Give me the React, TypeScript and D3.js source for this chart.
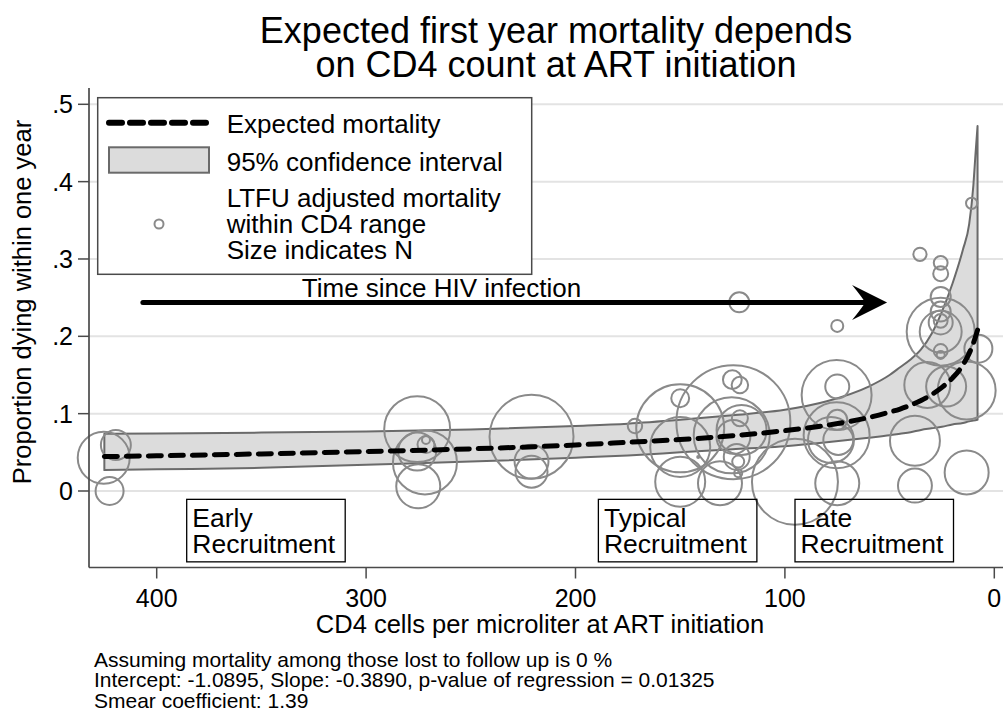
import React from 'react';
import * as d3 from 'd3';

// ---------- data ----------
const cd4Curve = [425, 400, 350, 300, 250, 200, 175, 150, 125, 100, 80, 60, 50, 45, 40, 35, 30, 25, 20, 15, 12, 10, 9, 8];
const expected = [0.0445, 0.0455, 0.048, 0.051, 0.0545, 0.0595, 0.063, 0.0665, 0.0715, 0.078, 0.085, 0.095, 0.102, 0.106, 0.111, 0.117, 0.1245, 0.134, 0.146, 0.163, 0.178, 0.191, 0.199, 0.208];
const ciLower = [0.027, 0.028, 0.030, 0.034, 0.038, 0.043, 0.046, 0.050, 0.054, 0.058, 0.063, 0.069, 0.072, 0.074, 0.076, 0.079, 0.081, 0.083, 0.086, 0.088, 0.090, 0.091, 0.0915, 0.092];
const ciUpper = [0.074, 0.0745, 0.0755, 0.077, 0.0795, 0.084, 0.087, 0.092, 0.098, 0.105, 0.116, 0.135, 0.150, 0.160, 0.170, 0.183, 0.203, 0.232, 0.268, 0.312, 0.345, 0.395, 0.435, 0.472];

// observed LTFU-adjusted mortality within CD4 ranges (size = N)
const obsCD4 = [425.3, 419.5, 422.5, 275.6, 271.9, 275.1, 275.6, 271.4, 271.4, 221, 221, 221, 171.6, 150, 150, 150, 150, 121.8, 124.6, 125.1, 121.5, 125.4, 121.5, 124.6, 122.3, 122.3, 131, 95.2, 141.4, 120.7, 123, 75, 75.3, 75, 75.3, 75, 78, 74.5, 75, 35.5, 32, 37.9, 37.9, 25.6, 25.6, 25.6, 25.6, 25.6, 25.6, 25.6, 25.6, 25.6, 25.6, 23, 13.2, 7.6, 10.8, 13.2];
const obsRate = [0.043, 0.0595, 0.0, 0.080, 0.037, 0.006, 0.051, 0.060, 0.066, 0.070, 0.038, 0.025, 0.084, 0.120, 0.081, 0.057, 0.012, 0.244, 0.089, 0.144, 0.137, 0.072, 0.094, 0.070, 0.038, 0.023, 0.010, 0.012, 0.044, 0.079, 0.044, 0.2135, 0.124, 0.135, 0.072, 0.092, 0.066, 0.066, 0.010, 0.306, 0.137, 0.065, 0.007, 0.295, 0.281, 0.251, 0.232, 0.206, 0.206, 0.218, 0.220, 0.181, 0.176, 0.135, 0.130, 0.184, 0.372, 0.024];
const obsN = [169, 56, 49, 272, 256, 121, 90, 18, 4, 441, 72, 64, 13, 20, 484, 225, 156, 25, 812, 22, 17, 361, 16, 72, 9, 4, 121, 462, 0.25, 156, 42, 9, 306, 36, 272, 25, 132, 56, 121, 11, 132, 156, 72, 12, 14, 25, 25, 289, 110, 36, 12, 12, 4, 100, 210, 49, 8, 121];

const yTicks = [0, 0.1, 0.2, 0.3, 0.4, 0.5];
const yTickLabels = ['0', '.1', '.2', '.3', '.4', '.5'];
const xTicks = [400, 300, 200, 100, 0];
const xTickLabels = ['400', '300', '200', '100', '0'];

const titleLines = ['Expected first year mortality depends', 'on CD4 count at ART initiation'];
const yTitle = 'Proportion dying within one year';
const xTitle = 'CD4 cells per microliter at ART initiation';
const legendLabels = ['Expected mortality', '95% confidence interval', 'LTFU adjusted mortality', 'within CD4 range', 'Size indicates N'];
const footerLines = [
  'Assuming mortality among those lost to follow up is 0 %',
  'Intercept: -1.0895, Slope: -0.3890, p-value of regression = 0.01325',
  'Smear coefficient: 1.39',
];
const arrowFromCD4 = 406.6;
const arrowToCD4 = 51.2;
const arrowRate = 0.2436;
const arrowLabel = 'Time since HIV infection';
const arrowLabelCD4 = 264;
const arrowLabelRate = 0.2512;
const boxLabels = [['Early', 'Recruitment'], ['Typical', 'Recruitment'], ['Late', 'Recruitment']];
const boxLabelCD4 = [383, 186.4, 92.5];
const boxLabelRate = -0.047;

// ---------- styles ----------
const FONT = '"Liberation Sans", Arial, Helvetica, sans-serif';
const GRID = '#e3e3e3';
const AXIS = '#4a4a4a';
const CIRCLE = '#8a8a8a';
const BAND_FILL = '#dcdcdc';
const BAND_STROKE = '#6a6a6a';

export default function App() {
  const W = 1003, H = 713;
  const x = d3.scaleLinear().domain([400, 0]).range([156.7, 994.3]);
  const y = d3.scaleLinear().domain([0, 0.5]).range([491, 104.3]);
  const r = d3.scaleSqrt().domain([0, 100]).range([0, 20]);

  const plotLeft = 89, plotRight = 1003, plotTop = 88, plotBottom = 567.5;

  const curvePts = cd4Curve.map((c, i) => ({ c, e: expected[i], lo: ciLower[i], hi: ciUpper[i] }));
  const area = d3.area<any>().x(d => x(d.c)).y0(d => y(d.lo)).y1(d => y(d.hi)).curve(d3.curveMonotoneX);
  const line = d3.line<any>().x(d => x(d.c)).y(d => y(d.e)).curve(d3.curveMonotoneX);

  const circles = obsCD4.map((c, i) => ({ c, v: obsRate[i], n: obsN[i] }));

  const ax1 = x(arrowFromCD4), ax2 = x(arrowToCD4), ay = y(arrowRate);

  return (
    <svg width={W} height={H} style={{ position: 'absolute', left: 0, top: 0, background: '#fff' }} fontFamily={FONT}>
      <rect x={0} y={0} width={W} height={H} fill="#fff" />
      {/* title */}
      {titleLines.map((t, i) => (
        <text key={i} x={556} y={43 + i * 34} fontSize={36} textAnchor="middle" fill="#000">{t}</text>
      ))}
      {/* grid */}
      {yTicks.map((t, i) => (
        <line key={i} x1={plotLeft} x2={plotRight} y1={y(t)} y2={y(t)} stroke={GRID} strokeWidth={2} />
      ))}
      {/* CI band */}
      <path d={area(curvePts) || ''} fill={BAND_FILL} stroke={BAND_STROKE} strokeWidth={2} strokeLinejoin="round" />
      {/* circles */}
      {circles.map((d, i) => (
        <circle key={i} cx={x(d.c)} cy={y(d.v)} r={Math.max(r(d.n), 1)} fill="none" stroke={CIRCLE} strokeWidth={2} />
      ))}
      {/* expected line */}
      <path d={line(curvePts) || ''} fill="none" stroke="#000" strokeWidth={5} strokeDasharray="13 9" strokeLinecap="round" />
      {/* arrow */}
      <line x1={ax1} x2={ax2 - 20} y1={ay} y2={ay} stroke="#000" strokeWidth={5} strokeLinecap="round" />
      <path d={`M${ax2},${ay} L${ax2 - 35},${ay - 17.5} Q${ax2 - 24},${ay - 4} ${ax2 - 22},${ay} Q${ax2 - 24},${ay + 4} ${ax2 - 35},${ay + 17.5} Z`} fill="#000" />
      <text x={x(arrowLabelCD4)} y={y(arrowLabelRate)} fontSize={26} textAnchor="middle">{arrowLabel}</text>
      {/* recruitment boxes */}
      {boxLabels.map((lines, i) => {
        const tx = x(boxLabelCD4[i]);
        const ty = y(boxLabelRate);
        return (
          <g key={i}>
            <rect x={tx - 5.6} y={ty - 28} width={158.5} height={62.5} fill="none" stroke="#000" strokeWidth={1.3} />
            <text x={tx} y={ty} fontSize={26.5}>{lines[0]}</text>
            <text x={tx} y={ty + 26} fontSize={26.5}>{lines[1]}</text>
          </g>
        );
      })}
      {/* axes */}
      <line x1={plotLeft} x2={plotLeft} y1={plotTop} y2={plotBottom} stroke={AXIS} strokeWidth={1.7} />
      <line x1={plotLeft} x2={plotRight} y1={plotBottom} y2={plotBottom} stroke={AXIS} strokeWidth={1.7} />
      {yTicks.map((t, i) => (
        <g key={i}>
          <line x1={78} x2={plotLeft} y1={y(t)} y2={y(t)} stroke={AXIS} strokeWidth={1.5} />
          <text x={73} y={y(t) + 9} fontSize={25} textAnchor="end">{yTickLabels[i]}</text>
        </g>
      ))}
      {xTicks.map((t, i) => (
        <g key={i}>
          <line x1={x(t)} x2={x(t)} y1={plotBottom} y2={plotBottom + 11} stroke={AXIS} strokeWidth={1.5} />
          <text x={x(t)} y={607} fontSize={25} textAnchor="middle">{xTickLabels[i]}</text>
        </g>
      ))}
      <text x={540} y={633} fontSize={25.5} textAnchor="middle">{xTitle}</text>
      <text transform="translate(31,302) rotate(-90)" fontSize={25.5} textAnchor="middle">{yTitle}</text>
      {/* legend */}
      <rect x={97.7} y={97.7} width={434} height={176.6} fill="#fff" stroke={AXIS} strokeWidth={1.5} />
      <line x1={109} x2={210} y1={122.7} y2={122.7} stroke="#000" strokeWidth={6} strokeDasharray="13 8" strokeLinecap="round" />
      <rect x={109} y={147.3} width={100} height={25.4} fill={BAND_FILL} stroke={BAND_STROKE} strokeWidth={2} />
      <circle cx={159} cy={224} r={4.5} fill="none" stroke={CIRCLE} strokeWidth={2} />
      <text x={226.7} y={133} fontSize={26}>{legendLabels[0]}</text>
      <text x={226.7} y={171} fontSize={26}>{legendLabels[1]}</text>
      <text x={226.7} y={207} fontSize={26}>{legendLabels[2]}</text>
      <text x={226.7} y={233} fontSize={26}>{legendLabels[3]}</text>
      <text x={226.7} y={259} fontSize={26}>{legendLabels[4]}</text>
      {/* footer */}
      {footerLines.map((t, i) => (
        <text key={i} x={94} y={667 + i * 20.3} fontSize={21}>{t}</text>
      ))}
    </svg>
  );
}
